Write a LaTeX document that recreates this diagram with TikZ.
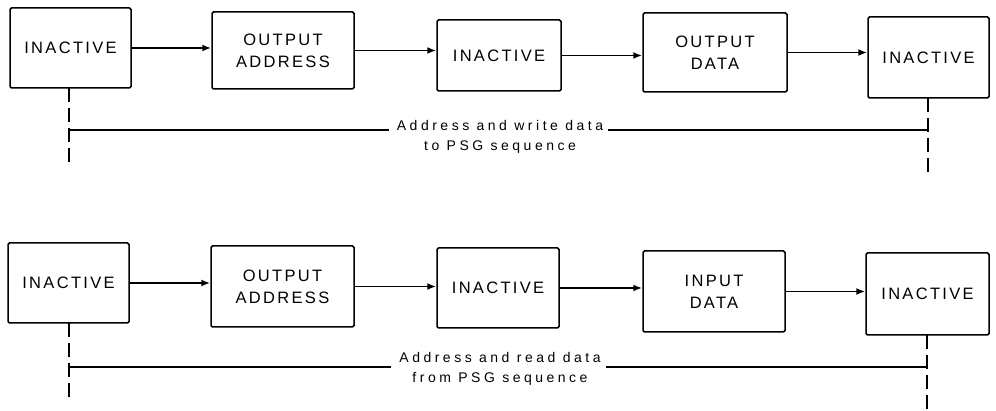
\documentclass[tikz,border=0pt]{standalone}
\usepackage{fontspec}
\setmainfont{Liberation Sans}
\newfontfamily\boxfont[LetterSpace=14]{Liberation Sans}
\newfontfamily\lblfont[LetterSpace=25]{Liberation Sans}
\usetikzlibrary{arrows.meta}
\begin{document}
\begin{tikzpicture}[x=1pt,y=-1pt,
  state/.style={draw,line width=1.5pt,rounded corners=1.5pt,inner sep=0pt,
    align=center,font=\boxfont\fontsize{16.5}{22}\selectfont},
  arr/.style={line width=1.8pt,-{Latex[length=9pt,width=7pt]}},
  guide/.style={line width=1.4pt,dash pattern=on 14pt off 6pt},
  dim/.style={line width=1.4pt},
  lbl/.style={align=center,inner sep=0pt,font=\lblfont\fontsize{14}{20}\selectfont}]
\useasboundingbox (0,0) rectangle (996,411);
% top row
\node[state,minimum width=121pt,minimum height=80pt] (b1) at (70.5,48) {INACTIVE};
\node[state,minimum width=142pt,minimum height=77pt] (b2) at (283,50.5) {OUTPUT\\ADDRESS};
\node[state,minimum width=124pt,minimum height=71pt] (b3) at (499,55.5) {INACTIVE};
\node[state,minimum width=144pt,minimum height=79pt] (b4) at (715,52.5) {OUTPUT\\DATA};
\node[state,minimum width=121pt,minimum height=81pt] (b5) at (928.5,57.5) {INACTIVE};
\draw[arr] (b1.east) -- (b1.east -| b2.west);
\draw[arr] (b2.east) -- (b2.east -| b3.west);
\draw[arr] (b3.east) -- (b3.east -| b4.west);
\draw[arr] (b4.east) -- (b4.east -| b5.west);
\coordinate (t1) at (69,88);
\coordinate (t1e) at (69,165);
\coordinate (t5) at (928,98);
\coordinate (t5e) at (928,177);
\draw[guide] (t1) -- (t1e);
\draw[guide] (t5) -- (t5e);
\node[lbl] (tl) at (500,137) {Address and write data\\to PSG sequence};
\coordinate (tL) at (69,130);
\coordinate (tR) at (928,130);
\draw[dim] (tL) -- ([xshift=-8pt]tL -| tl.west);
\draw[dim] ([xshift=5pt]tR -| tl.east) -- (tR);
% bottom row
\node[state,minimum width=121pt,minimum height=80pt] (c1) at (68.5,283) {INACTIVE};
\node[state,minimum width=143pt,minimum height=81pt] (c2) at (282.5,286.5) {OUTPUT\\ADDRESS};
\node[state,minimum width=122pt,minimum height=80pt] (c3) at (498,288) {INACTIVE};
\node[state,minimum width=142pt,minimum height=81pt] (c4) at (714,291.5) {INPUT\\DATA};
\node[state,minimum width=123pt,minimum height=82pt] (c5) at (927.5,294) {INACTIVE};
\draw[arr] (c1.east) -- (c1.east -| c2.west);
\draw[arr] (c2.east) -- (c2.east -| c3.west);
\draw[arr] (c3.east) -- (c3.east -| c4.west);
\draw[arr] (c4.east) -- (c4.east -| c5.west);
\coordinate (u1) at (69,323);
\coordinate (u1e) at (69,402);
\coordinate (u5) at (927,335);
\coordinate (u5e) at (927,411);
\draw[guide] (u1) -- (u1e);
\draw[guide] (u5) -- (u5e);
\node[lbl] (bl) at (500,369) {Address and read data\\from PSG sequence};
\coordinate (bL) at (69,367);
\coordinate (bR) at (927,367);
\draw[dim] (bL) -- ([xshift=-8pt]bL -| bl.west);
\draw[dim] ([xshift=5pt]bR -| bl.east) -- (bR);
\end{tikzpicture}
\end{document}
